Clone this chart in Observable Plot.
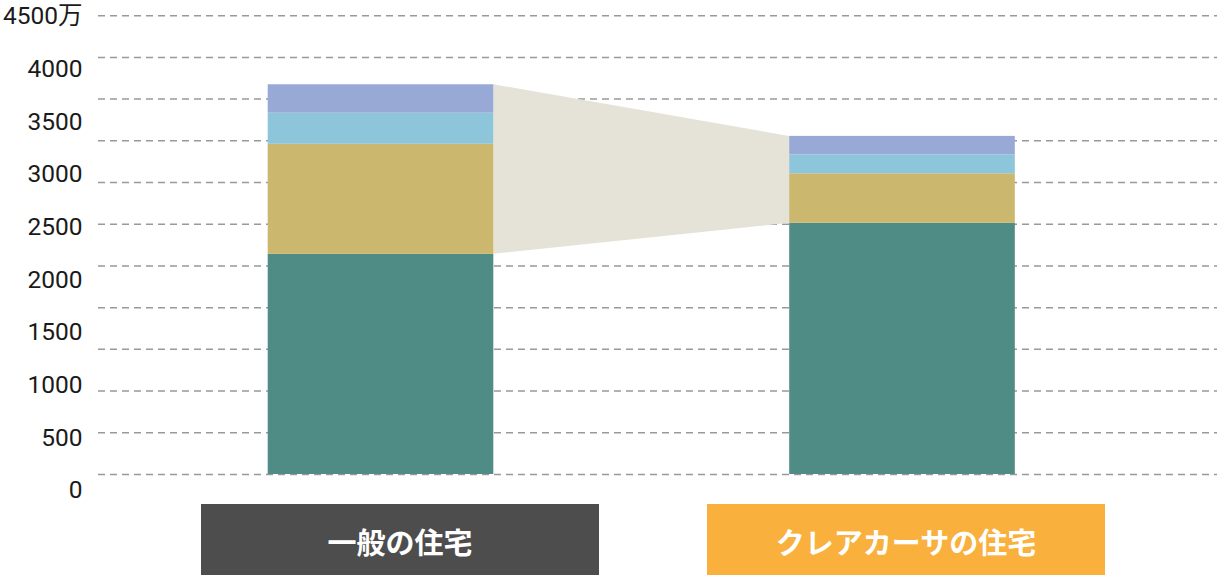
<!DOCTYPE html>
<html>
<head>
<meta charset="utf-8">
<script src="https://cdn.jsdelivr.net/npm/d3@7"></script>
<script src="https://cdn.jsdelivr.net/npm/@observablehq/plot@0.6"></script>
<style>
  html, body { margin: 0; padding: 0; background: #fff; }
  #wrap { position: relative; width: 1218px; height: 576px; overflow: hidden; font-family: "Noto Sans CJK JP", "Noto Sans", sans-serif; }
  #chart { position: absolute; left: 0; top: -12px; }
  .cat { position: absolute; top: 504px; height: 71px; width: 398px; display: flex; align-items: center; justify-content: center;
         color: #fff; font-weight: 700; font-size: 29px; box-sizing: border-box; padding-top: 2px; }
</style>
</head>
<body>
<div id="wrap">
  <div id="chart"></div>
  <div id="labels"></div>
</div>
<script>
// ---- data ----
const categories = ["一般の住宅", "クレアカーサの住宅"];
const categoryColors = ["#4d4d4d", "#f9b03c"];
const segmentNames = ["費用1", "費用2", "費用3", "費用4"];
const segmentColors = ["#4f8c85", "#cbb76e", "#8dc5db", "#98a9d6"];
const segment1 = [2090, 2385];
const segment2 = [1045, 470];
const segment3 = [295, 180];
const segment4 = [270, 175];
const yTicks = [0, 500, 1000, 1500, 2000, 2500, 3000, 3500, 4000, 4500];
const gridStep = 396;
const gridCount = 12;

// ---- build table ----
const series = [segment1, segment2, segment3, segment4];
const rows = [];
categories.forEach((c, i) => {
  let acc = 0;
  series.forEach((s, k) => {
    rows.push({cat: c, i, seg: segmentNames[k], y1: acc, y2: acc + s[i]});
    acc += s[i];
  });
});
const totals = categories.map((c, i) => series.reduce((a, s) => a + s[i], 0));
const hw = 0.2163;
const connector = [
  {x: 0 + hw, y1: segment1[0], y2: totals[0]},
  {x: 1 - hw, y1: segment1[1], y2: totals[1]}
];
const gridValues = d3.range(gridCount).map(i => i * gridStep);

const plot = Plot.plot({
  width: 1218,
  height: 516,
  marginTop: 12,
  marginBottom: 30,
  marginLeft: 98,
  marginRight: 1,
  x: {type: "linear", domain: [-0.5417, 1.604], axis: null},
  y: {domain: [0, 4500], axis: null},
  color: {domain: segmentNames, range: segmentColors},
  style: {fontFamily: "'Noto Sans CJK JP', 'Noto Sans', sans-serif", background: "transparent", overflow: "visible"},
  marks: [
    Plot.ruleY(gridValues, {stroke: "#999", strokeWidth: 1.5, strokeDasharray: "7,5"}),
    Plot.areaY(connector, {x: "x", y1: "y1", y2: "y2", fill: "#e5e3d7"}),
    Plot.rect(rows, {x1: d => d.i - hw, x2: d => d.i + hw, y1: "y1", y2: "y2", fill: "seg"}),
    Plot.axisY(yTicks, {
      tickSize: 0, tickPadding: 16, dy: 16, fontSize: 24.5, fill: "#1a1a1a",
      fontFamily: "Roboto, 'Noto Sans CJK JP', sans-serif",
      tickFormat: d => d === 4500 ? "4500万" : String(d)
    })
  ]
});
document.getElementById("chart").appendChild(plot);

const labels = document.getElementById("labels");
const boxLefts = [201, 707];
categories.forEach((c, i) => {
  const div = document.createElement("div");
  div.className = "cat";
  div.style.left = boxLefts[i] + "px";
  div.style.background = categoryColors[i];
  div.textContent = c;
  labels.appendChild(div);
});
</script>
</body>
</html>
